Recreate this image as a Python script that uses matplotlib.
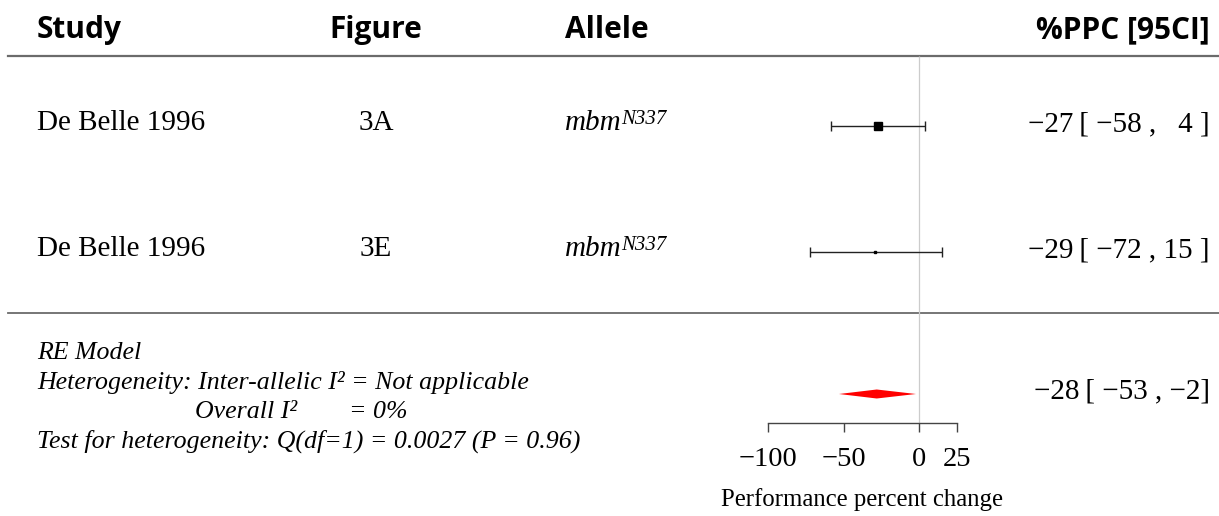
#!/usr/bin/env python3
"""Forest plot of mbm allele performance percent change (RE model)."""

import matplotlib
matplotlib.use("Agg")
import matplotlib.pyplot as plt

# ---- data -------------------------------------------------------------
studies = ["De Belle 1996", "De Belle 1996"]
figures = ["3A", "3E"]
alleles = ["mbm", "mbm"]
allele_sup = ["N337", "N337"]
estimates = [-27, -29]
ci_low = [-58, -72]
ci_high = [4, 15]
weights = [66.4, 33.6]

summary_est = -28
summary_low = -53
summary_high = -2

ticks = [-100, -50, 0, 25]
stats_lines = [
    "RE Model",
    "Heterogeneity: Inter-allelic I\u00b2 = Not applicable",
    "Overall I\u00b2",
    "Test for heterogeneity: Q(df=1) = 0.0027 (P = 0.96)",
]
overall_i2 = "= 0%"

# ---- layout (pixels) ---------------------------------------------------
W, H = 1219, 516
DPI = 100
row_y = [126, 252]
summary_y = 394
axis_y = 423
zero_px = 919.0
px_per_unit = 1.51

SERIF = ["Liberation Serif", "DejaVu Serif"]
HEAD = dict(family=["Open Sans", "DejaVu Sans"], fontweight="bold", fontsize=21.5)
LINE_COL = "#6b6b6b"
ROW_FS = 21


def fmt(v):
    s = f"{abs(v)}"
    return ("\u2212" + s) if v < 0 else s


def fmt_ci(est, lo, hi, close=" ]"):
    lo_s = fmt(lo)
    hi_s = fmt(hi)
    hi_s = "\u2007" * max(0, 2 - len(hi_s)) + hi_s
    return f"{fmt(est)}\u2009[ {lo_s} , {hi_s}{close}"


fig = plt.figure(figsize=(W / DPI, H / DPI), dpi=DPI)

# background axes in pixel coordinates for the table text
bg = fig.add_axes([0, 0, 1, 1])
bg.set_xlim(0, W)
bg.set_ylim(H, 0)
bg.axis("off")

# headers
bg.text(37, 38, "Study", ha="left", va="baseline", **HEAD)
bg.text(376, 38, "Figure", ha="center", va="baseline", **HEAD)
bg.text(565, 38, "Allele", ha="left", va="baseline", **HEAD)
bg.text(1210, 38, "%PPC [95CI]", ha="right", va="baseline", **HEAD)

bg.plot([8, W], [56, 56], color=LINE_COL, lw=1.6)
bg.plot([8, W], [313, 313], color=LINE_COL, lw=1.3)

for i, y in enumerate(row_y):
    base = y + 4
    bg.text(37, base, studies[i], family=SERIF, fontsize=ROW_FS, ha="left", va="baseline")
    bg.text(376, base, figures[i], family=SERIF, fontsize=ROW_FS, ha="center", va="baseline")
    t = bg.text(565, base, alleles[i], family=SERIF, style="italic", fontsize=ROW_FS,
                ha="left", va="baseline")
    bg.annotate(allele_sup[i], xy=(1, 0), xycoords=t, xytext=(-0.5, 9), textcoords="offset points",
                family=SERIF, style="italic", fontsize=15, ha="left", va="baseline")
    bg.text(1210, base + 1, fmt_ci(estimates[i], ci_low[i], ci_high[i]),
            family=SERIF, fontsize=ROW_FS, ha="right", va="baseline")

bg.text(1210, summary_y + 4, fmt_ci(summary_est, summary_low, summary_high, close="]"),
        family=SERIF, fontsize=ROW_FS, ha="right", va="baseline")

# model / heterogeneity notes
it = dict(family=SERIF, style="italic", fontsize=18.6, ha="left", va="baseline")
bg.text(37, 359, stats_lines[0], **it)
bg.text(37, 389, stats_lines[1], **it)
bg.text(195, 418, stats_lines[2], **it)
bg.text(349, 418, overall_i2, **it)
bg.text(37, 448, stats_lines[3], **it)

# forest axes: x in percent change, y in pixel rows
left_px, right_px = 700, 1000
fa = fig.add_axes([left_px / W, (H - axis_y) / H, (right_px - left_px) / W, axis_y / H])
xmin = (left_px - zero_px) / px_per_unit
xmax = (right_px - zero_px) / px_per_unit
fa.set_xlim(xmin, xmax)
fa.set_ylim(axis_y, 0)
fa.patch.set_alpha(0)
for side in ["top", "left", "right"]:
    fa.spines[side].set_visible(False)
fa.spines["bottom"].set_bounds(ticks[0], ticks[-1])
fa.spines["bottom"].set_color("#444444")
fa.spines["bottom"].set_linewidth(1.0)
fa.set_yticks([])
fa.set_xticks(ticks)
fa.set_xticklabels([fmt(t) for t in ticks], family=SERIF, fontsize=20.5)
fa.tick_params(axis="x", direction="out", length=6.5, width=1.0, color="#444444", pad=11)
# centre the axis title under the drawn tick range
label_x = ((ticks[0] + ticks[-1]) / 2 - xmin) / (xmax - xmin)
fa.set_xlabel("Performance percent change", family=SERIF, fontsize=17.8, labelpad=11, x=label_x)

# reference line at zero
fa.vlines(0, 56, axis_y, color="#cccccc", lw=0.9, zorder=0)

# study estimates with CIs, box size scaled by weight
max_w, min_w = max(weights), min(weights)
for i, y in enumerate(row_y):
    fa.errorbar(estimates[i], y, xerr=[[estimates[i] - ci_low[i]], [ci_high[i] - estimates[i]]],
                fmt="none", ecolor="#222222", elinewidth=1.0, capsize=3.5, capthick=1.0)
    size = 2.0 + 4.2 * (weights[i] - min_w) / (max_w - min_w)
    fa.plot(estimates[i], y, marker="s", ms=size, color="black", linestyle="none")

# summary diamond
fa.fill([summary_low, summary_est, summary_high, summary_est],
        [summary_y, summary_y - 4.5, summary_y, summary_y + 4.5],
        color="#ff0000", lw=0)

fig.savefig("out.png", dpi=DPI)
